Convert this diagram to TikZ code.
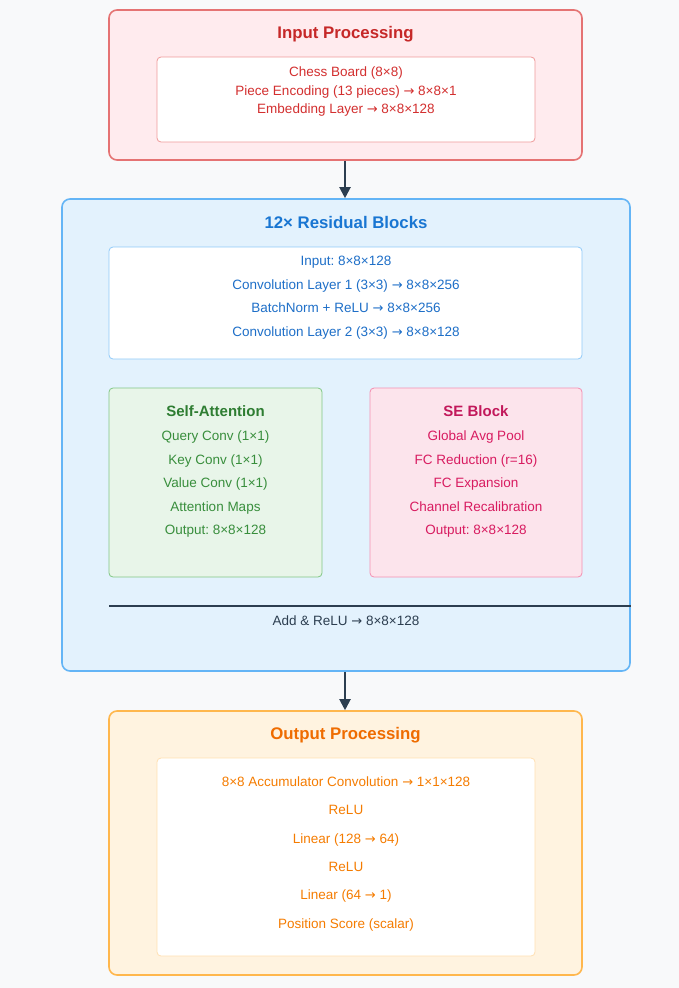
\documentclass[tikz,border=0pt]{standalone}
\usepackage{fontspec}
\setmainfont{Liberation Sans}
\newfontfamily\arrowfont{DejaVu Sans}
\newcommand{\toarr}{{\arrowfont\fontsize{13}{15}\selectfont →}}
\usepackage{xcolor}
\usepackage{tikz}
\usetikzlibrary{positioning,arrows.meta,calc}
\frenchspacing

\definecolor{pagebg}{HTML}{F8F9FA}
\definecolor{slate}{HTML}{2C3E50}
\definecolor{inFill}{HTML}{FFEBEE}
\definecolor{inLine}{HTML}{E57373}
\definecolor{inSoft}{HTML}{EF9A9A}
\definecolor{inHead}{HTML}{C62828}
\definecolor{inText}{HTML}{D32F2F}
\definecolor{resFill}{HTML}{E3F2FD}
\definecolor{resLine}{HTML}{64B5F6}
\definecolor{resSoft}{HTML}{90CAF9}
\definecolor{resHead}{HTML}{1976D2}
\definecolor{resText}{HTML}{1E6FC8}
\definecolor{attFill}{HTML}{E8F5E9}
\definecolor{attLine}{HTML}{81C784}
\definecolor{attHead}{HTML}{2E7D32}
\definecolor{attText}{HTML}{388E3C}
\definecolor{seFill}{HTML}{FCE4EC}
\definecolor{seLine}{HTML}{F48FB1}
\definecolor{seHead}{HTML}{C2185B}
\definecolor{seText}{HTML}{D81B60}
\definecolor{outFill}{HTML}{FFF3E0}
\definecolor{outLine}{HTML}{FFB74D}
\definecolor{outSoft}{HTML}{FFE0B2}
\definecolor{outHead}{HTML}{EF6C00}
\definecolor{outText}{HTML}{F57C00}

\begin{document}
\begin{tikzpicture}[
  x=1pt, y=-1pt,
  stageBox/.style={draw, line width=1.6pt, rounded corners=8pt, inner sep=0pt},
  innerBox/.style={draw, fill=white, line width=0.8pt, rounded corners=4pt, inner sep=0pt},
  subBox/.style={draw, line width=0.8pt, rounded corners=4pt, inner sep=0pt},
  headT/.style={font=\fontsize{16.8}{19}\selectfont\bfseries, inner sep=0pt, anchor=base, yshift=-6pt},
  subT/.style={font=\fontsize{15}{17}\selectfont\bfseries, inner sep=0pt, anchor=base, yshift=-5.4pt},
  bodyT/.style={font=\fontsize{13.5}{15}\selectfont, inner sep=0pt, anchor=base, yshift=-4.9pt},
  flow/.style={slate, line width=2pt, -{Triangle[length=11pt,width=11pt]}}
]
\fill[pagebg] (0,0) rectangle (679,988);
\useasboundingbox (0,0) rectangle (679,988);

% Input stage
\node[stageBox, fill=inFill, draw=inLine, minimum width=473pt, minimum height=150pt] (inp) at (345.5,85) {};
\node[headT, text=inHead] (inpT) at (345.5,32) {Input Processing};
\node[innerBox, draw=inSoft, minimum width=378pt, minimum height=85pt] (inpIn) at (346,99.5) {};
\node[bodyT, text=inText] (inp1) at (346,72) {Chess Board (8×8)};
\node[bodyT, text=inText] (inp2) at (346,90.5) {Piece Encoding (13 pieces) \toarr\ 8×8×1};
\node[bodyT, text=inText] (inp3) at (346,109) {Embedding Layer \toarr\ 8×8×128};

% Residual stage
\node[stageBox, fill=resFill, draw=resLine, minimum width=568pt, minimum height=472pt] (res) at (346,435) {};
\node[headT, text=resHead] (resT) at (346,222) {12× Residual Blocks};
\node[innerBox, draw=resSoft, minimum width=473pt, minimum height=112pt] (resIn) at (345.5,303) {};
\node[bodyT, text=resText] (res1) at (346,261) {Input: 8×8×128};
\node[bodyT, text=resText] (res2) at (346,284.5) {Convolution Layer 1 (3×3) \toarr\ 8×8×256};
\node[bodyT, text=resText] (res3) at (346,308) {BatchNorm + ReLU \toarr\ 8×8×256};
\node[bodyT, text=resText] (res4) at (346,331.5) {Convolution Layer 2 (3×3) \toarr\ 8×8×128};

% Self-attention branch
\node[subBox, fill=attFill, draw=attLine, minimum width=213pt, minimum height=189pt] (att) at (215.5,482.5) {};
\node[subT, text=attHead] (attT) at (215.5,411.5) {Self-Attention};
\node[bodyT, text=attText] (att1) at (215.5,436) {Query Conv (1×1)};
\node[bodyT, text=attText] (att2) at (215.5,459.5) {Key Conv (1×1)};
\node[bodyT, text=attText] (att3) at (215.5,483) {Value Conv (1×1)};
\node[bodyT, text=attText] (att4) at (215.5,506.5) {Attention Maps};
\node[bodyT, text=attText] (att5) at (215.5,530) {Output: 8×8×128};

% SE branch
\node[subBox, fill=seFill, draw=seLine, minimum width=212pt, minimum height=189pt] (se) at (476,482.5) {};
\node[subT, text=seHead] (seT) at (476,411.5) {SE Block};
\node[bodyT, text=seText] (se1) at (476,436) {Global Avg Pool};
\node[bodyT, text=seText] (se2) at (476,459.5) {FC Reduction (r=16)};
\node[bodyT, text=seText] (se3) at (476,483) {FC Expansion};
\node[bodyT, text=seText] (se4) at (476,506.5) {Channel Recalibration};
\node[bodyT, text=seText] (se5) at (476,530) {Output: 8×8×128};

% Sum line
\coordinate (sumL) at (109,606);
\coordinate (sumR) at (res.east |- sumL);
\draw[slate, line width=1.4pt] (sumL) -- (sumR);
\node[bodyT, text=slate] (sumT) at (346,621) {Add \& ReLU \toarr\ 8×8×128};

% Output stage
\node[stageBox, fill=outFill, draw=outLine, minimum width=473pt, minimum height=264pt] (out) at (345.5,843) {};
\node[headT, text=outHead] (outT) at (345.5,733.5) {Output Processing};
\node[innerBox, draw=outSoft, minimum width=378pt, minimum height=198pt] (outIn) at (346,857) {};
\node[bodyT, text=outText] (out1) at (346,781.5) {8×8 Accumulator Convolution \toarr\ 1×1×128};
\node[bodyT, text=outText] (out2) at (346,810) {ReLU};
\node[bodyT, text=outText] (out3) at (346,838.5) {Linear (128 \toarr\ 64)};
\node[bodyT, text=outText] (out4) at (346,866.5) {ReLU};
\node[bodyT, text=outText] (out5) at (346,895) {Linear (64 \toarr\ 1)};
\node[bodyT, text=outText] (out6) at (346,923.5) {Position Score (scalar)};

% Flow
\draw[flow] (inp.south -| 345,0) -- (res.north -| 345,0);
\draw[flow] (res.south -| 345,0) -- (out.north -| 345,0);
\end{tikzpicture}
\end{document}
